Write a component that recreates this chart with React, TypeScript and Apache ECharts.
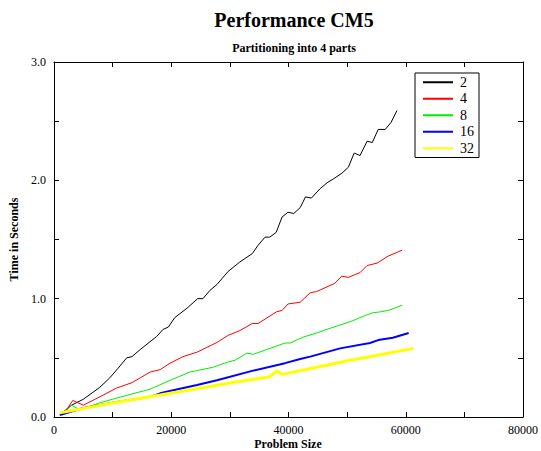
import React, { useEffect, useRef } from "react";
import * as echarts from "echarts";

const seriesNames = ["2", "4", "8", "16", "32"];
const seriesColors = ["#000000", "#ff0000", "#00ee00", "#0000ff", "#ffff00"];
const seriesWidths = [1, 1, 1, 2, 3];

const x2 = [1000, 2000, 3000, 5000, 7800, 9500, 10900, 12400, 13300, 14700, 17500, 18600, 19500, 20600, 22700, 24500, 25400, 26600, 27800, 29700, 31700, 33800, 34800, 36000, 36800, 37900, 38900, 39900, 40900, 42000, 42900, 43900, 45400, 46600, 47600, 49100, 50200, 51200, 52200, 53400, 54300, 55300, 56500, 57500, 58500];
const y2 = [0.02, 0.06, 0.1, 0.15, 0.25, 0.33, 0.41, 0.5, 0.51, 0.57, 0.68, 0.74, 0.76, 0.84, 0.92, 1.0, 1.0, 1.07, 1.12, 1.23, 1.31, 1.38, 1.45, 1.52, 1.52, 1.56, 1.69, 1.73, 1.72, 1.77, 1.86, 1.85, 1.93, 1.98, 2.01, 2.06, 2.11, 2.23, 2.21, 2.33, 2.32, 2.43, 2.43, 2.49, 2.59];

const x4 = [1000, 2000, 3200, 5000, 7800, 10700, 13300, 16400, 18100, 19800, 22000, 24500, 27800, 29700, 31700, 33800, 34800, 38000, 38900, 39900, 42000, 43700, 44800, 47900, 49100, 50200, 52200, 53400, 55100, 57000, 59400];
const y4 = [0.02, 0.05, 0.14, 0.1, 0.17, 0.245, 0.29, 0.38, 0.4, 0.455, 0.51, 0.55, 0.63, 0.69, 0.73, 0.79, 0.79, 0.89, 0.9, 0.955, 0.97, 1.05, 1.06, 1.13, 1.19, 1.18, 1.22, 1.28, 1.3, 1.36, 1.41];

const x8 = [1000, 2000, 3000, 4400, 7800, 10700, 13300, 16400, 19800, 23200, 27100, 29700, 30900, 32900, 34000, 37400, 39400, 40300, 42500, 44800, 47100, 50800, 52200, 54300, 55900, 57300, 59400];
const y8 = [0.02, 0.05, 0.1, 0.06, 0.12, 0.16, 0.195, 0.235, 0.31, 0.38, 0.42, 0.465, 0.48, 0.54, 0.53, 0.59, 0.625, 0.625, 0.675, 0.71, 0.75, 0.81, 0.84, 0.88, 0.89, 0.905, 0.945];

const x16 = [1000, 5000, 10700, 16400, 18100, 21100, 24400, 27800, 33800, 39400, 42000, 43700, 48800, 53900, 55300, 57800, 60500];
const y16 = [0.017, 0.076, 0.127, 0.17, 0.2, 0.235, 0.27, 0.31, 0.39, 0.455, 0.49, 0.51, 0.58, 0.625, 0.65, 0.67, 0.71];

const x32 = [1000, 10700, 18100, 30000, 36800, 38000, 38900, 44800, 50500, 56100, 61300];
const y32 = [0.035, 0.124, 0.186, 0.287, 0.34, 0.39, 0.36, 0.42, 0.48, 0.53, 0.58];

const xs = [x2, x4, x8, x16, x32];
const ys = [y2, y4, y8, y16, y32];

const FONT = "Liberation Serif, 'Times New Roman', DejaVu Serif, serif";

export default function App() {
  const ref = useRef<HTMLDivElement>(null);
  useEffect(() => {
    if (!ref.current) return;
    const chart = echarts.init(ref.current, null, { renderer: "svg" });
    const axisLineStyle = { color: "#000", width: 1 };
    const xCommon = {
      type: "value",
      min: 0,
      max: 80000,
      interval: 10000,
      splitLine: { show: false },
      axisLine: { show: true, onZero: false, lineStyle: axisLineStyle },
      axisTick: { show: true, inside: true, length: 5, lineStyle: axisLineStyle },
    };
    const yCommon = {
      type: "value",
      min: 0,
      max: 3,
      interval: 0.5,
      splitLine: { show: false },
      axisLine: { show: true, onZero: false, lineStyle: axisLineStyle },
      axisTick: { show: true, inside: true, length: 5, lineStyle: axisLineStyle },
    };
    chart.setOption({
      animation: false,
      backgroundColor: "#fff",
      title: [
        {
          text: "Performance CM5",
          left: 289,
          textAlign: "center",
          top: 5,
          textStyle: { fontFamily: FONT, fontSize: 20, fontWeight: "bold", color: "#000" },
        },
        {
          text: "Partitioning into 4 parts",
          left: 289,
          textAlign: "center",
          top: 37,
          textStyle: { fontFamily: FONT, fontSize: 12, fontWeight: "bold", color: "#000" },
        },
      ],
      graphic: [
        {
          type: "text",
          x: 288,
          y: 438,
          style: {
            text: "Problem Size",
            fontFamily: FONT,
            fontSize: 12,
            fontWeight: "bold",
            fill: "#000",
            align: "center",
            verticalAlign: "top",
          },
        },
      ],
      grid: { left: 54, top: 62, right: 18, bottom: 34, show: false, outerBoundsMode: "none", containLabel: false },
      legend: {
        orient: "vertical",
        left: 415,
        top: 73,
        padding: [1, 5, 1, 7],
        itemWidth: 30,
        itemHeight: 10,
        itemGap: 0,
        borderColor: "#000",
        borderWidth: 1,
        backgroundColor: "#fff",
        itemStyle: { opacity: 0 },
        textStyle: { fontFamily: FONT, fontSize: 14, lineHeight: 16.5, color: "#000", padding: [0, 0, 0, 2] },
        data: seriesNames,
      },
      xAxis: [
        {
          ...xCommon,
          position: "bottom",
          axisLabel: {
            fontFamily: FONT,
            fontSize: 12,
            color: "#000",
            margin: 7,
            formatter: (v: number) => (v % 20000 === 0 ? String(v) : ""),
          },
        },
        { ...xCommon, position: "top", axisLabel: { show: false } },
      ],
      yAxis: [
        {
          ...yCommon,
          position: "left",
          name: "Time in Seconds",
          nameLocation: "middle",
          nameGap: 30,
          nameTextStyle: { fontFamily: FONT, fontSize: 12, fontWeight: "bold", color: "#000" },
          axisLabel: {
            fontFamily: FONT,
            fontSize: 12,
            color: "#000",
            margin: 8,
            formatter: (v: number) => (Math.abs(v - Math.round(v)) < 1e-9 ? v.toFixed(1) : ""),
          },
        },
        { ...yCommon, position: "right", axisLabel: { show: false } },
      ],
      series: seriesNames.map((name, i) => ({
        name,
        type: "line",
        xAxisIndex: 0,
        yAxisIndex: 0,
        symbol: "none",
        showSymbol: false,
        color: seriesColors[i],
        lineStyle: { color: seriesColors[i], width: seriesWidths[i] },
        data: xs[i].map((x, j) => [x, ys[i][j]]),
      })),
    });
    return () => chart.dispose();
  }, []);
  return <div ref={ref} style={{ width: 541, height: 451, position: "absolute", left: 0, top: 0 }} />;
}
